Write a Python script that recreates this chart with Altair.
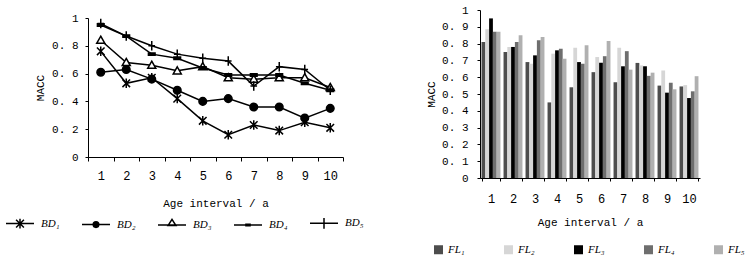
import altair as alt
import pandas as pd

# ---------------- data ----------------
intervals = [1, 2, 3, 4, 5, 6, 7, 8, 9, 10]

bd_names = ["BD₁", "BD₂", "BD₃", "BD₄", "BD₅"]
bd1 = [0.76, 0.53, 0.57, 0.42, 0.26, 0.16, 0.23, 0.19, 0.25, 0.21]
bd2 = [0.61, 0.63, 0.56, 0.48, 0.40, 0.42, 0.36, 0.36, 0.28, 0.35]
bd3 = [0.84, 0.68, 0.66, 0.62, 0.65, 0.57, 0.56, 0.57, 0.57, 0.50]
bd4 = [0.95, 0.87, 0.74, 0.71, 0.64, 0.59, 0.59, 0.59, 0.53, 0.48]
bd5 = [0.96, 0.87, 0.80, 0.74, 0.71, 0.69, 0.51, 0.65, 0.63, 0.48]

fl_names = ["FL₁", "FL₂", "FL₃", "FL₄", "FL₅"]
fl1 = [0.81, 0.75, 0.69, 0.45, 0.54, 0.63, 0.57, 0.685, 0.55, 0.545]
fl2 = [0.886, 0.78, 0.68, 0.74, 0.775, 0.72, 0.775, 0.67, 0.64, 0.553]
fl3 = [0.95, 0.78, 0.73, 0.76, 0.69, 0.686, 0.665, 0.665, 0.508, 0.476]
fl4 = [0.87, 0.81, 0.82, 0.77, 0.68, 0.725, 0.755, 0.608, 0.567, 0.516]
fl5 = [0.87, 0.85, 0.84, 0.71, 0.79, 0.816, 0.645, 0.627, 0.528, 0.606]

left_y_ticks = [0, 0.2, 0.4, 0.6, 0.8, 1]
right_y_ticks = [0, 0.1, 0.2, 0.3, 0.4, 0.5, 0.6, 0.7, 0.8, 0.9, 1]

# ---------------- styling ----------------
MONO = "Liberation Mono"
SERIF = "Liberation Serif"
marker_paths = [
    "M-0.8,-0.8L0.8,0.8M-0.8,0.8L0.8,-0.8M0,-1L0,1",
    "M-0.8,0A0.8,0.8,0,1,0,0.8,0A0.8,0.8,0,1,0,-0.8,0Z",
    "M0,-0.85L0.85,0.65L-0.85,0.65Z",
    "M-0.7,-0.25H0.7V0.25H-0.7Z",
    "M0,-1V1M-0.7,0H0.7",
]
marker_fills = ["black", "black", "white", "black", "black"]
bar_colors = ["#4d4d4d", "#d6d6d6", "#000000", "#6e6e6e", "#b0b0b0"]

# legend glyphs: line segment with the marker drawn on it (stroke only)
leg_paths = [
    "M-1,0H1M-0.28,-0.28L0.28,0.28M-0.28,0.28L0.28,-0.28M0,-0.34V0.34",
    "M-1,0H1M-0.2,0A0.2,0.2,0,1,0,0.2,0A0.2,0.2,0,1,0,-0.2,0"
    "M-0.11,0A0.11,0.11,0,1,0,0.11,0A0.11,0.11,0,1,0,-0.11,0"
    "M-0.04,0A0.04,0.04,0,1,0,0.04,0A0.04,0.04,0,1,0,-0.04,0",
    "M-1,0H1M0,-0.4L0.28,0.04L-0.28,0.04Z",
    "M-1,0H1M-0.2,-0.06H0.2M-0.2,0.06H0.2",
    "M-1,0H1M0,-0.38V0.38",
]

label_expr = "datum.value == 0 ? '0' : datum.value == 1 ? '1' : replace(format(datum.value, '.1f'), '.', '. ')"

# ---------------- tables ----------------
left_rows = []
for name, vals in zip(bd_names, [bd1, bd2, bd3, bd4, bd5]):
    for i, v in zip(intervals, vals):
        left_rows.append({"interval": i, "series": name, "macc": v})
left_df = pd.DataFrame(left_rows)

right_rows = []
for name, vals in zip(fl_names, [fl1, fl2, fl3, fl4, fl5]):
    for i, v in zip(intervals, vals):
        right_rows.append({"interval": i, "fl": name, "macc": v})
right_df = pd.DataFrame(right_rows)

# ---------------- left chart (lines) ----------------
x_left = alt.X(
    "interval:O",
    bandPosition=0.5,
    scale=alt.Scale(type="band", domain=intervals, range=[0, 255], paddingInner=0, paddingOuter=0),
    axis=alt.Axis(
        title="Age interval / a", titleFont=MONO, titleFontSize=11, titleFontWeight="normal",
        titleColor="black", titlePadding=16,
        labelFont=MONO, labelFontSize=12, labelColor="black", labelAngle=0, labelPadding=9,
        tickBand="extent", tickSize=4, tickColor="black", domainColor="black", grid=False,
        orient="bottom", offset=-21,
    ),
)
y_left = alt.Y(
    "macc:Q",
    scale=alt.Scale(domain=[0, 1], range=[147, 8], nice=False, zero=True),
    axis=alt.Axis(
        title="MACC", titleFont=MONO, titleFontSize=11, titleFontWeight="normal", titleColor="black",
        titlePadding=6, values=left_y_ticks, labelExpr=label_expr, labelFont=MONO, labelFontSize=11,
        labelColor="black", labelPadding=7, tickSize=3, tickColor="black", domainColor="black",
        grid=False, orient="left",
    ),
)

lines = alt.Chart(left_df).mark_line(color="black", strokeWidth=1.5).encode(
    x=x_left, y=y_left, detail="series:N"
)
points = alt.Chart(left_df).mark_point(size=90, opacity=1, strokeWidth=1.5, stroke="black").encode(
    x=x_left,
    y=y_left,
    shape=alt.Shape("series:N", scale=alt.Scale(domain=bd_names, range=marker_paths), legend=None),
    fill=alt.Fill("series:N", scale=alt.Scale(domain=bd_names, range=marker_fills), legend=None),
)
legend_pts = alt.Chart(left_df).mark_point(opacity=0, strokeWidth=1.5, color="black").encode(
    x=x_left,
    y=y_left,
    shape=alt.Shape(
        "series:N",
        scale=alt.Scale(domain=bd_names, range=leg_paths),
        legend=alt.Legend(
            title=None, orient="none", legendX=-83, legendY=198, direction="horizontal",
            columns=5, columnPadding=19, labelOffset=6, padding=0,
            labelFont=SERIF, labelFontStyle="italic", labelFontSize=11, labelColor="black",
            symbolSize=784, symbolOpacity=1, symbolStrokeColor="black", symbolStrokeWidth=1.5,
            symbolFillColor="transparent",
        ),
    ),
)
left = alt.layer(lines, points, legend_pts).resolve_scale(shape="independent")

# ---------------- right chart (bars) ----------------
bars = alt.Chart(right_df).mark_bar(strokeWidth=0).encode(
    x=alt.X(
        "interval:O",
        scale=alt.Scale(type="band", domain=intervals, range=[392, 612], paddingInner=0.14, paddingOuter=0.07),
        axis=alt.Axis(
            title="Age interval / a", titleFont=MONO, titleFontSize=11, titleFontWeight="normal",
            titleColor="black", titlePadding=12,
            labelFont=MONO, labelFontSize=12, labelColor="black", labelAngle=0, labelPadding=12,
            tickBand="extent", tickSize=3, tickColor="black", domainColor="black", grid=False,
            orient="bottom", offset=0,
        ),
    ),
    xOffset=alt.XOffset("fl:N", scale=alt.Scale(domain=fl_names, paddingInner=0, paddingOuter=0)),
    y=alt.Y(
        "macc:Q",
        scale=alt.Scale(domain=[0, 1], range=[168, 0], nice=False, zero=True),
        axis=alt.Axis(
            title="MACC", titleFont=MONO, titleFontSize=11, titleFontWeight="normal", titleColor="black",
            titlePadding=5, values=right_y_ticks, labelExpr=label_expr, labelFont=MONO, labelFontSize=11,
            labelColor="black", labelPadding=9, tickSize=3, tickColor="black", domainColor="black",
            grid=False, orient="left", offset=-392,
        ),
    ),
    color=alt.Color(
        "fl:N",
        scale=alt.Scale(domain=fl_names, range=bar_colors),
        legend=alt.Legend(
            title=None, orient="none", legendX=345, legendY=234, direction="horizontal",
            columns=5, columnPadding=38, labelOffset=4, padding=0, symbolType="square",
            symbolSize=81, symbolStrokeWidth=0, symbolOpacity=1,
            labelFont=SERIF, labelFontStyle="italic", labelFontSize=11, labelColor="black",
        ),
    ),
)

chart = (
    alt.layer(left, bars)
    .resolve_scale(x="independent", y="independent", xOffset="independent")
    .properties(
        width=612, height=168,
        autosize=alt.AutoSizeParams(type="none"),
        padding={"left": 88, "top": 10, "right": 51, "bottom": 80},
        background="white",
    )
    .configure_view(strokeWidth=0)
)

chart.save("out.html", embed_options={"renderer": "svg", "actions": False})
